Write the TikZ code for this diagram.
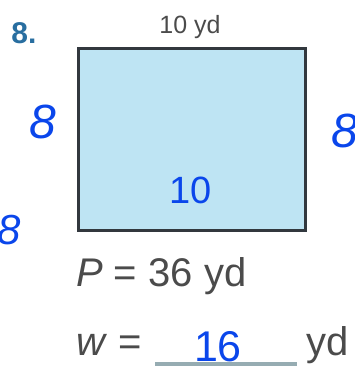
\documentclass[tikz,border=0pt]{standalone}
\usepackage{fontspec}
\setmainfont{Liberation Sans}
\newfontfamily\handfont{Liberation Sans}
\definecolor{boxfill}{RGB}{190,228,243}
\definecolor{boxline}{RGB}{50,56,62}
\definecolor{ink}{RGB}{10,70,235}
\definecolor{numcol}{RGB}{40,110,160}
\definecolor{txt}{RGB}{75,75,75}
\definecolor{uline}{RGB}{150,172,178}
\begin{document}
\begin{tikzpicture}[x=1pt,y=-1pt,
  hand/.style={text=ink,font=\handfont\itshape\fontsize{48}{48}\selectfont,inner sep=0pt},
  label/.style={text=txt,inner sep=0pt}]
\useasboundingbox (0,0) rectangle (354,369);
\node[draw=boxline,line width=3pt,fill=boxfill,minimum width=227pt,minimum height=182pt,inner sep=0pt,anchor=north west] (rect) at (77,47) {};
\node[text=numcol,font=\bfseries\fontsize{30}{30}\selectfont,inner sep=0pt] (num) at (24,33) {8.};
\node[label,font=\fontsize{25}{25}\selectfont] (top) at (190,27) {10 yd};
\node[hand] (l8) at (43,122) {8};
\node[hand] (r8) at (345,131) {8};
\node[hand,font=\handfont\fontsize{38}{38}\selectfont] (mid) at (191,190) {10};
\node[hand,font=\handfont\itshape\fontsize{42}{42}\selectfont] (b8) at (9,230) {8};
\node[label,font=\fontsize{40}{40}\selectfont,anchor=west] (per) at (76,276) {\textit{P} = 36 yd};
\node[label,font=\fontsize{40}{40}\selectfont,anchor=west] (w) at (76,345) {\textit{w} =};
\coordinate (ul1) at (155,364);
\coordinate (ul2) at (297,364);
\draw[line width=4pt,color=uline] (ul1) -- (ul2);
\node[hand,font=\handfont\fontsize{43}{43}\selectfont] (sixteen) at (218,347) {16};
\node[label,font=\fontsize{40}{40}\selectfont,anchor=west] (yd) at (306,345) {yd};
\end{tikzpicture}
\end{document}
